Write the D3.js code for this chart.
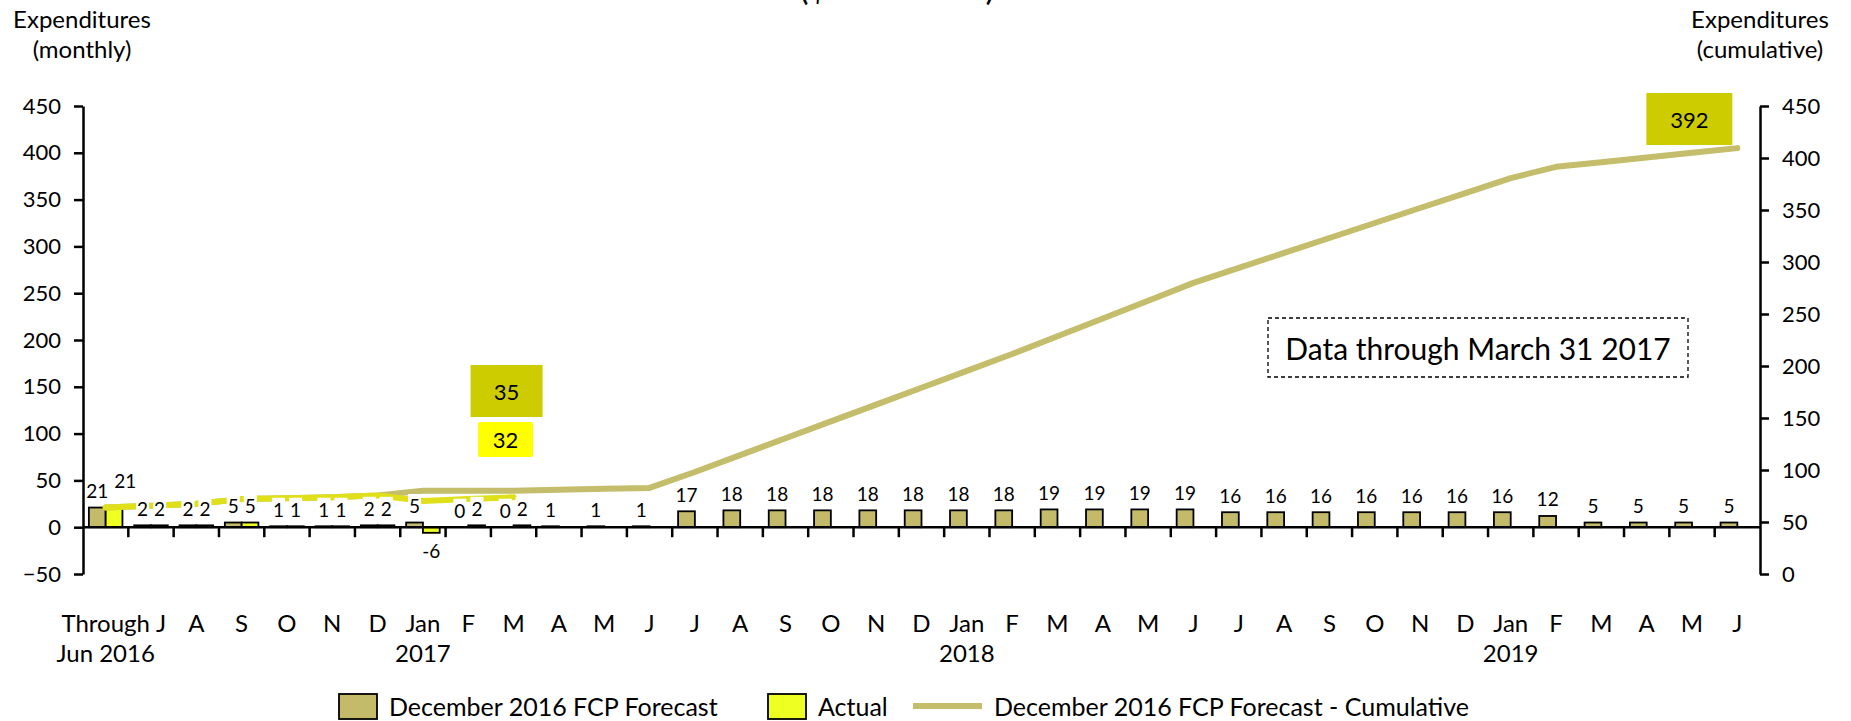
<!DOCTYPE html>
<html>
<head>
<meta charset="utf-8">
<script src="https://cdn.jsdelivr.net/npm/d3@7"></script>
<style>
  html, body { margin: 0; padding: 0; background: #fff; }
  svg { display: block; font-family: Lato, "Open Sans", sans-serif; }
</style>
</head>
<body>
<svg id="chart" width="1851" height="721"></svg>
<script>
// ---------------- DATA ----------------
const categories = ["Through Jun 2016","Jul 2016","Aug 2016","Sep 2016","Oct 2016","Nov 2016","Dec 2016",
  "Jan 2017","Feb 2017","Mar 2017","Apr 2017","May 2017","Jun 2017","Jul 2017","Aug 2017","Sep 2017","Oct 2017","Nov 2017","Dec 2017",
  "Jan 2018","Feb 2018","Mar 2018","Apr 2018","May 2018","Jun 2018","Jul 2018","Aug 2018","Sep 2018","Oct 2018","Nov 2018","Dec 2018",
  "Jan 2019","Feb 2019","Mar 2019","Apr 2019","May 2019","Jun 2019"];
const tickLine1 = ["Through","J","A","S","O","N","D","Jan","F","M","A","M","J","J","A","S","O","N","D",
  "Jan","F","M","A","M","J","J","A","S","O","N","D","Jan","F","M","A","M","J"];
const tickLine2 = ["Jun 2016","","","","","","","2017","","","","","","","","","","","",
  "2018","","","","","","","","","","","","2019","","","","",""];
const forecastMonthly = [21,2,2,5,1,1,2,5,0,0,1,1,1,17,18,18,18,18,18,18,18,19,19,19,19,16,16,16,16,16,16,16,12,5,5,5,5];
const actualMonthly = [21,2,2,5,1,1,2,-6,2,2];
const forecastCumulative = [21,23,25,30,31,32,34,39,39,39,40,41,42,59,77,95,113,131,149,167,185,204,223,242,261,277,293,309,325,341,357,373,385,390,395,400,405];
const actualCumulative = [21,23,25,30,31,32,34,28,30,32];
const leftTicks = [-50,0,50,100,150,200,250,300,350,400,450];
const rightTicks = [0,50,100,150,200,250,300,350,400,450];
const forecastThroughMarLabel = "35";
const actualThroughMarLabel = "32";
const forecastTotalLabel = "392";
const seriesNames = ["December 2016 FCP Forecast","Actual","December 2016 FCP Forecast - Cumulative"];

// ---------------- STYLE ----------------
const cKhaki = "#C3BB6A";
const cKhakiLine = "#C4BD6B";
const cYellowBar = "#EEFF22";
const cYellowLine = "#E0E01A";
const cAnnot = "#CCCC00";
const cAnnot2 = "#FFFF00";

const svg = d3.select("#chart");
const X0 = 83, X1 = 1760;

const x = d3.scaleBand().domain(categories).range([X0, X1]).paddingInner(0).paddingOuter(0);
const sub = d3.scaleBand().domain(["f","a"]).range([0, x.bandwidth()]).paddingInner(0).paddingOuter(0.35);
const yL = d3.scaleLinear().domain([-50, 450]).range([574, 106]);
const yR = d3.scaleLinear().domain([0, 450]).range([574, 106]);

// Partial title (cut off at top, as in the source image)
svg.append("text").attr("x", 897).attr("y", 0).attr("text-anchor", "middle")
  .style("font-size", "34px").attr("fill", "#000").text("($ in millions)");

// Axis titles
const titleL = svg.append("text").attr("text-anchor", "middle").style("font-size", "24px").attr("fill", "#000");
titleL.append("tspan").attr("x", 82).attr("y", 28).text("Expenditures");
titleL.append("tspan").attr("x", 82).attr("y", 58).text("(monthly)");
const titleR = svg.append("text").attr("text-anchor", "middle").style("font-size", "24px").attr("fill", "#000");
titleR.append("tspan").attr("x", 1760).attr("y", 28).text("Expenditures");
titleR.append("tspan").attr("x", 1760).attr("y", 58).text("(cumulative)");

// Left axis
const gL = svg.append("g").attr("transform", `translate(${X0},0)`)
  .call(d3.axisLeft(yL).tickValues(leftTicks).tickSize(9).tickSizeOuter(0).tickPadding(13));
gL.select(".domain").attr("stroke-width", 2.5);
gL.selectAll(".tick line").attr("stroke-width", 2.5);
gL.selectAll(".tick text").style("font-size", "22px").style("font-family", "Lato").attr("fill", "#000");

// Right axis
const gR = svg.append("g").attr("transform", `translate(${X1},0)`)
  .call(d3.axisRight(yR).tickValues(rightTicks).tickSize(9).tickSizeOuter(0).tickPadding(13));
gR.select(".domain").attr("stroke-width", 2.5);
gR.selectAll(".tick line").attr("stroke-width", 2.5);
gR.selectAll(".tick text").style("font-size", "22px").style("font-family", "Lato").attr("fill", "#000");

// Bars
const bars = svg.append("g");
bars.selectAll("rect.f").data(forecastMonthly).join("rect").attr("class", "f")
  .attr("x", (d, i) => x(categories[i]) + sub("f"))
  .attr("width", sub.bandwidth())
  .attr("y", d => yL(Math.max(0, d)))
  .attr("height", d => Math.abs(yL(d) - yL(0)))
  .attr("fill", cKhaki).attr("stroke", "#000").attr("stroke-width", d => d === 0 ? 0 : 1.8);
bars.selectAll("rect.a").data(actualMonthly).join("rect").attr("class", "a")
  .attr("x", (d, i) => x(categories[i]) + sub("a"))
  .attr("width", sub.bandwidth())
  .attr("y", d => yL(Math.max(0, d)))
  .attr("height", d => Math.abs(yL(d) - yL(0)))
  .attr("fill", cYellowBar).attr("stroke", "#000").attr("stroke-width", d => d === 0 ? 0 : 1.8);

// X axis line + ticks
const y0 = yL(0);
svg.append("line").attr("x1", X0).attr("x2", X1).attr("y1", y0).attr("y2", y0)
  .attr("stroke", "#000").attr("stroke-width", 2.5);
svg.append("g").selectAll("line").data(categories.slice(1)).join("line")
  .attr("x1", d => x(d)).attr("x2", d => x(d))
  .attr("y1", y0).attr("y2", y0 + 10).attr("stroke", "#000").attr("stroke-width", 2.5);

// Category labels (nudge a label right if it would collide with its left neighbour)
const catG = svg.append("g").style("font-size", "24px").attr("fill", "#000").attr("text-anchor", "middle");
const l1 = catG.selectAll("text.l1").data(tickLine1).join("text").attr("class", "l1")
  .attr("x", (d, i) => x(categories[i]) + x.bandwidth() / 2).attr("y", 632).text(d => d);
let prevRight = -Infinity;
l1.each(function () {
  const bb = this.getBBox();
  if (bb.x < prevRight + 6) {
    const dx = prevRight + 6 - bb.x;
    d3.select(this).attr("x", +d3.select(this).attr("x") + dx);
    prevRight = bb.x + bb.width + dx;
  } else prevRight = bb.x + bb.width;
});
catG.selectAll("text.l2").data(tickLine2).join("text").attr("class", "l2")
  .attr("x", (d, i) => x(categories[i]) + x.bandwidth() / 2).attr("y", 662).text(d => d);

// Cumulative lines (plotted against left scale, as in source)
const lineGen = d3.line().x((d, i) => x(categories[i]) + x.bandwidth() / 2).y(d => yL(d));
svg.append("path").datum(forecastCumulative).attr("d", lineGen)
  .attr("fill", "none").attr("stroke", cKhakiLine).attr("stroke-width", 6)
  .attr("stroke-linecap", "round").attr("stroke-linejoin", "round");
svg.append("path").datum(actualCumulative).attr("d", lineGen)
  .attr("fill", "none").attr("stroke", cYellowLine).attr("stroke-width", 6)
  .attr("stroke-linecap", "round").attr("stroke-linejoin", "round");

// Data labels with white background
const labG = svg.append("g");
function addLabel(cx, cy, txt, avoid) {
  const g = labG.append("g");
  const t = g.append("text").attr("x", cx).attr("y", cy).attr("text-anchor", "middle")
    .attr("dominant-baseline", "central").style("font-size", "19px").attr("fill", "#000").text(txt);
  let bb = t.node().getBBox();
  if (avoid && bb.x < avoid.x + avoid.width + 6 && bb.y < avoid.y + avoid.height && bb.y + bb.height > avoid.y) {
    const dx = avoid.x + avoid.width + 6 - bb.x;
    t.attr("x", cx + dx);
    bb = t.node().getBBox();
  }
  g.insert("rect", "text").attr("x", bb.x - 1).attr("y", bb.y).attr("width", bb.width + 2)
    .attr("height", bb.height).attr("fill", "#fff");
  return bb;
}
const fBoxes = forecastMonthly.map((v, i) => {
  const cx = x(categories[i]) + sub("f") + sub.bandwidth() / 2;
  const cy = v >= 0 ? yL(v) - 17 : yL(v) + 18;
  return addLabel(cx, cy, v);
});
actualMonthly.forEach((v, i) => {
  const cx = x(categories[i]) + sub("a") + sub.bandwidth() / 2;
  const cy = v >= 0 ? yL(v) - (i === 0 ? 27 : 17) : yL(v) + 18;
  addLabel(cx, cy, v, fBoxes[i]);
});

// Annotation boxes
function annot(cx, cy, w, h, fill, txt, r) {
  svg.append("rect").attr("x", cx - w / 2).attr("y", cy - h / 2).attr("width", w).attr("height", h)
    .attr("rx", r || 0).attr("fill", fill);
  svg.append("text").attr("x", cx).attr("y", cy).attr("text-anchor", "middle")
    .attr("dominant-baseline", "central").style("font-size", "22px").attr("fill", "#000").text(txt);
}
const marC = x("Mar 2017") + x.bandwidth() / 2;
annot(marC - 7, 391, 72, 52, cAnnot, forecastThroughMarLabel, 0);
annot(marC - 8, 439.5, 55, 35, cAnnot2, actualThroughMarLabel, 2);
const endC = x("Jun 2019") + x.bandwidth() / 2;
annot(endC - 48, 119, 86, 52, cAnnot, forecastTotalLabel, 0);

// Data-through box
svg.append("rect").attr("x", 1268).attr("y", 318).attr("width", 420).attr("height", 59)
  .attr("fill", "#fff").attr("stroke", "#000").attr("stroke-width", 1.3).attr("stroke-dasharray", "4,3");
svg.append("text").attr("x", 1478).attr("y", 348).attr("text-anchor", "middle")
  .attr("dominant-baseline", "central").style("font-size", "30px").attr("fill", "#000")
  .text("Data through March 31 2017");

// Legend
const lg = svg.append("g").style("font-size", "25px").attr("fill", "#000");
lg.append("rect").attr("x", 339).attr("y", 694).attr("width", 38).attr("height", 25)
  .attr("fill", cKhaki).attr("stroke", "#000").attr("stroke-width", 1.8);
lg.append("text").attr("x", 389).attr("y", 716).text(seriesNames[0]);
lg.append("rect").attr("x", 768).attr("y", 694).attr("width", 38).attr("height", 25)
  .attr("fill", cYellowBar).attr("stroke", "#000").attr("stroke-width", 1.8);
lg.append("text").attr("x", 818).attr("y", 716).text(seriesNames[1]);
lg.append("line").attr("x1", 913).attr("x2", 982).attr("y1", 706).attr("y2", 706)
  .attr("stroke", cKhakiLine).attr("stroke-width", 6);
lg.append("text").attr("x", 994).attr("y", 716).text(seriesNames[2]);
</script>
</body>
</html>
